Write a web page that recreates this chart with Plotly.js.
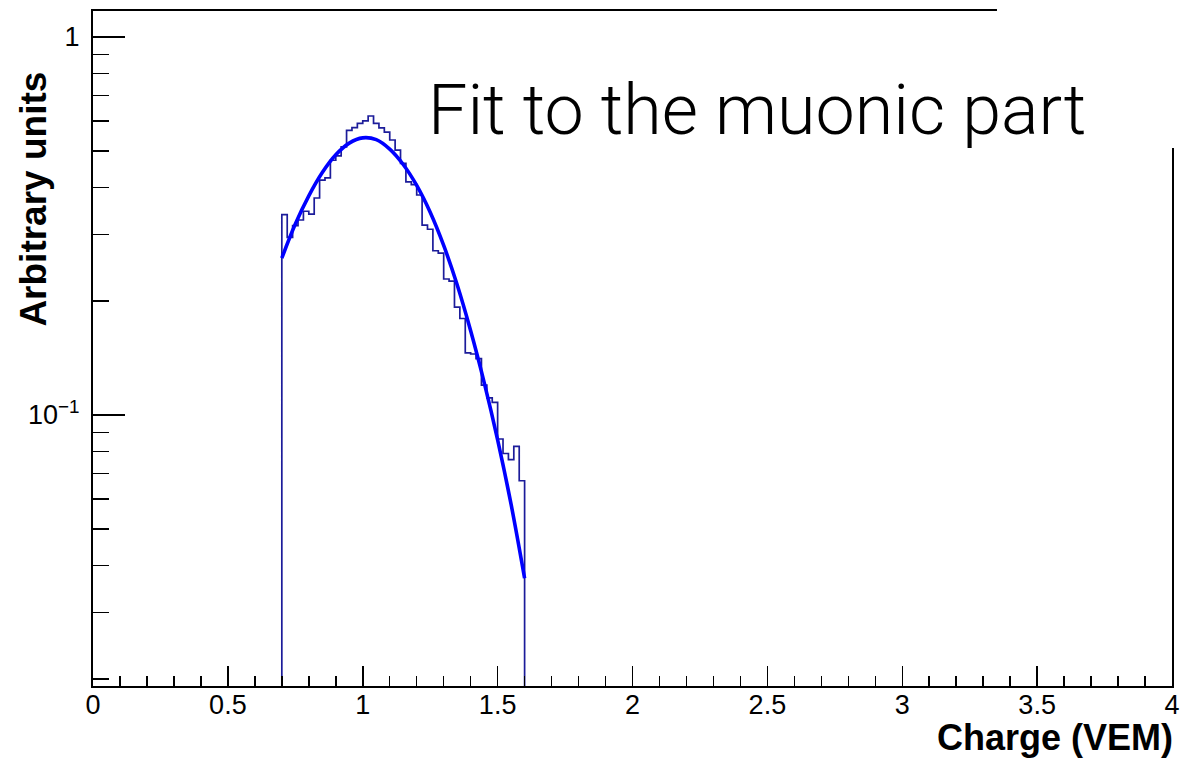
<!DOCTYPE html>
<html>
<head>
<meta charset="utf-8">
<script src="https://cdn.plot.ly/plotly-3.0.1.min.js"></script>
<style>
  html, body { margin: 0; padding: 0; background: #ffffff; }
  #chart { width: 1202px; height: 764px; }
</style>
</head>
<body>
<div id="chart"></div>
<script>
// Histogram bin edges (Charge, VEM) and bin contents (arbitrary units)
const binEdges = [0.70,0.72,0.74,0.76,0.78,0.80,0.82,0.84,0.86,0.88,0.90,0.92,0.94,0.96,0.98,1.00,
  1.02,1.04,1.06,1.08,1.10,1.12,1.14,1.16,1.18,1.20,1.22,1.24,1.26,1.28,1.30,1.32,1.34,1.36,1.38,
  1.40,1.42,1.44,1.46,1.48,1.50,1.52,1.54,1.56,1.58,1.60];
const binHeights = [0.339,0.295,0.317,0.328,0.346,0.340,0.375,0.418,0.424,0.472,0.485,0.512,0.566,
  0.576,0.591,0.600,0.618,0.591,0.575,0.560,0.534,0.502,0.463,0.414,0.407,0.382,0.318,0.310,0.272,
  0.268,0.229,0.226,0.193,0.180,0.146,0.145,0.141,0.120,0.111,0.108,0.0864,0.0791,0.0762,0.0826,0.0670];

// Fit curve points
const fitX = [0.70,0.75,0.80,0.85,0.90,0.95,1.00,1.05,1.10,1.15,1.20,1.25,1.30,1.35,1.40,1.45,1.50,1.55,1.60];
const fitY = [0.260,0.320,0.380,0.438,0.488,0.524,0.541,0.535,0.505,0.460,0.405,0.344,0.281,0.221,
  0.167,0.122,0.0860,0.0580,0.0370];

// Axis setup
const xRange = [0, 4];
const yRangeLog = [-1.7169, 0.0688];
const yMajorTicks = [0.1, 1];
const yMajorText = ['10<sup>\u22121</sup>', '1'];
const yMinorTicks = [0.02,0.03,0.04,0.05,0.06,0.07,0.08,0.09,0.2,0.3,0.4,0.5,0.6,0.7,0.8,0.9];

const textLabel = 'Fit to the muonic part';
const xTitle = 'Charge (VEM)';
const yTitle = 'Arbitrary units';

// Build the step outline of the histogram (ROOT style)
const floorVal = Math.pow(10, yRangeLog[0] - 1);
const hx = [binEdges[0]];
const hy = [floorVal];
for (let i = 0; i < binHeights.length; i++) {
  hx.push(binEdges[i]);
  hy.push(binHeights[i]);
}
hx.push(binEdges[binEdges.length - 1]); hy.push(binHeights[binHeights.length - 1]);
hx.push(binEdges[binEdges.length - 1]); hy.push(floorVal);

const traces = [
  {
    x: hx, y: hy, type: 'scatter', mode: 'lines',
    line: { shape: 'hv', color: '#1c1c9a', width: 1.7 },
    hoverinfo: 'skip', showlegend: false
  },
  {
    x: fitX, y: fitY, type: 'scatter', mode: 'lines',
    line: { shape: 'spline', color: '#0000ff', width: 3.6 },
    hoverinfo: 'skip', showlegend: false
  }
];

const axisFont = { family: 'Liberation Sans, Arial, sans-serif', size: 27, color: '#000000' };

const layout = {
  width: 1202, height: 764,
  margin: { l: 93, r: 30, t: 11, b: 78, pad: 0 },
  paper_bgcolor: '#ffffff', plot_bgcolor: '#ffffff',
  showlegend: false,
  xaxis: {
    range: xRange, autorange: false,
    showline: true, linecolor: '#000000', linewidth: 2, mirror: true,
    showgrid: false, zeroline: false,
    ticks: 'inside', ticklen: 20, tickwidth: 1.5, tickcolor: '#000000',
    dtick: 0.5, tick0: 0,
    minor: { dtick: 0.1, tick0: 0, ticks: 'inside', ticklen: 10, tickwidth: 1.5, tickcolor: '#000000', showgrid: false },
    tickfont: axisFont, ticklabelstandoff: -6
  },
  yaxis: {
    type: 'log', range: yRangeLog, autorange: false,
    showline: true, linecolor: '#000000', linewidth: 2, mirror: true,
    showgrid: false, zeroline: false,
    tickmode: 'array', tickvals: yMajorTicks, ticktext: yMajorText,
    ticks: 'inside', ticklen: 32, tickwidth: 1.5, tickcolor: '#000000',
    minor: { tickmode: 'array', tickvals: yMinorTicks, ticks: 'inside', ticklen: 16, tickwidth: 1.5, tickcolor: '#000000', showgrid: false },
    tickfont: axisFont, ticklabelstandoff: 6
  },
  shapes: [
    { type: 'rect', xref: 'paper', yref: 'paper', x0: 0.8378, x1: 1.05, y0: 0.797, y1: 1.05,
      fillcolor: '#ffffff', line: { width: 0 }, layer: 'above' }
  ],
  annotations: [
    { text: textLabel, xref: 'paper', yref: 'paper', x: 0.3085, y: 0.853,
      xanchor: 'left', yanchor: 'middle', showarrow: false,
      font: { family: 'Roboto, Lato, Liberation Sans, sans-serif', size: 70, color: '#000000', weight: 300 } },
    { text: '<b>' + xTitle + '</b>', xref: 'paper', yref: 'paper', x: 1.003, y: -0.0756,
      xanchor: 'right', yanchor: 'middle', showarrow: false,
      font: { family: 'Liberation Sans, Arial, sans-serif', size: 36, color: '#000000' } },
    { text: '<b>' + yTitle + '</b>', xref: 'paper', yref: 'paper', x: -0.0555, y: 0.9126,
      xanchor: 'center', yanchor: 'top', textangle: -90, showarrow: false,
      font: { family: 'Liberation Sans, Arial, sans-serif', size: 37, color: '#000000' } }
  ]
};

Plotly.newPlot('chart', traces, layout, { staticPlot: true, displayModeBar: false });
</script>
</body>
</html>
